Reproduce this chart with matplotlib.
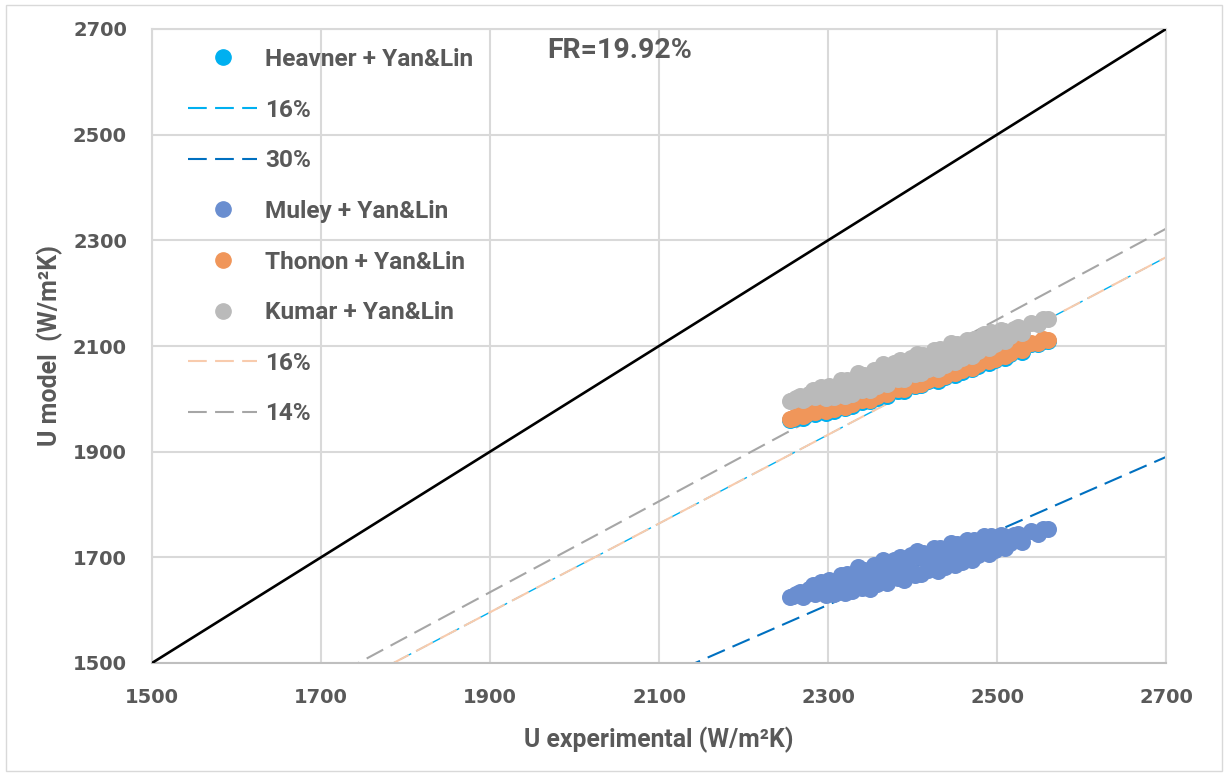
import matplotlib.pyplot as plt
from matplotlib.lines import Line2D
from matplotlib.patches import Rectangle

# U experimental values shared by all four correlations
u_exp = [2255, 2262, 2270, 2278, 2285, 2292, 2298, 2304, 2310, 2315, 2320, 2325, 2330, 2335,
         2340, 2345, 2350, 2355, 2360, 2365, 2370, 2375, 2380, 2385, 2390, 2395, 2400, 2405,
         2410, 2415, 2420, 2425, 2430, 2435, 2440, 2445, 2450, 2455, 2460, 2465, 2470, 2475,
         2480, 2485, 2490, 2495, 2500, 2505, 2510, 2520, 2530, 2540, 2548, 2555, 2560,
         2259, 2267, 2274, 2282, 2288, 2295, 2301, 2307, 2312, 2318, 2322, 2328, 2333, 2338,
         2343, 2348, 2352, 2358, 2363, 2368, 2373, 2378, 2383, 2388, 2393, 2398, 2403, 2408,
         2413, 2418, 2423, 2428, 2433, 2438, 2443, 2448, 2453, 2458, 2463, 2468, 2473, 2478,
         2483, 2488, 2493, 2498, 2503, 2508, 2515, 2525]

# U model for each Nusselt correlation (all with Yan&Lin for the other side)
u_heavner = [1959, 1964, 1964, 1976, 1972, 1988, 1974, 1989, 1985, 2002, 1982, 2004, 1996, 2016,
             1994, 2010, 1995, 2023, 2007, 2031, 2006, 2028, 2021, 2040, 2015, 2040, 2026, 2051,
             2026, 2044, 2038, 2060, 2034, 2058, 2049, 2071, 2046, 2065, 2055, 2077, 2056, 2076,
             2070, 2086, 2068, 2085, 2077, 2093, 2078, 2095, 2089, 2103, 2103, 2110, 2109,
             1961, 1969, 1969, 1981, 1979, 1977, 1992, 1977, 1991, 1986, 2004, 1987, 2006, 2002,
             2014, 2000, 2017, 2002, 2017, 2028, 2015, 2035, 2015, 2032, 2026, 2045, 2024, 2045,
             2051, 2033, 2050, 2040, 2061, 2041, 2056, 2050, 2070, 2051, 2069, 2062, 2079, 2063,
             2079, 2073, 2088, 2073, 2085, 2092, 2084, 2097]
u_muley = [1625, 1630, 1625, 1641, 1631, 1654, 1629, 1650, 1641, 1667, 1632, 1665, 1650, 1681,
           1642, 1668, 1641, 1686, 1657, 1695, 1651, 1685, 1672, 1701, 1657, 1697, 1672, 1712,
           1668, 1697, 1684, 1718, 1674, 1712, 1695, 1728, 1685, 1716, 1698, 1732, 1695, 1727,
           1715, 1740, 1707, 1735, 1719, 1743, 1718, 1742, 1729, 1749, 1745, 1754, 1753,
           1626, 1635, 1631, 1647, 1642, 1636, 1657, 1630, 1651, 1639, 1668, 1637, 1667, 1658,
           1676, 1650, 1677, 1649, 1672, 1688, 1664, 1695, 1661, 1687, 1676, 1704, 1667, 1700,
           1708, 1676, 1702, 1684, 1717, 1682, 1706, 1694, 1725, 1692, 1719, 1706, 1732, 1704,
           1728, 1716, 1741, 1714, 1732, 1741, 1727, 1745]
u_thonon = [1962, 1967, 1967, 1979, 1975, 1991, 1977, 1992, 1988, 2005, 1985, 2007, 1999, 2019,
            1997, 2013, 1998, 2026, 2010, 2034, 2009, 2031, 2024, 2043, 2018, 2043, 2029, 2054,
            2029, 2047, 2041, 2063, 2037, 2061, 2052, 2074, 2049, 2068, 2058, 2080, 2059, 2079,
            2073, 2089, 2071, 2088, 2080, 2096, 2081, 2098, 2092, 2106, 2106, 2113, 2112,
            1964, 1972, 1972, 1984, 1982, 1980, 1995, 1980, 1994, 1989, 2007, 1990, 2009, 2005,
            2017, 2003, 2020, 2005, 2020, 2031, 2018, 2038, 2018, 2035, 2029, 2048, 2027, 2048,
            2054, 2036, 2053, 2043, 2064, 2044, 2059, 2053, 2073, 2054, 2072, 2065, 2082, 2066,
            2082, 2076, 2091, 2076, 2088, 2095, 2087, 2100]
u_kumar = [1996, 2001, 1997, 2010, 2003, 2022, 2001, 2020, 2012, 2035, 2006, 2034, 2022, 2049,
           2017, 2038, 2016, 2055, 2031, 2065, 2028, 2058, 2048, 2073, 2037, 2071, 2050, 2085,
           2048, 2074, 2064, 2093, 2057, 2090, 2076, 2105, 2070, 2096, 2082, 2112, 2082, 2110,
           2101, 2123, 2097, 2122, 2109, 2131, 2110, 2133, 2124, 2143, 2142, 2151, 2151,
           1997, 2005, 2002, 2016, 2011, 2007, 2025, 2003, 2021, 2012, 2036, 2010, 2036, 2029,
           2045, 2024, 2047, 2024, 2045, 2059, 2040, 2067, 2038, 2061, 2052, 2077, 2047, 2075,
           2083, 2057, 2080, 2065, 2094, 2064, 2086, 2076, 2104, 2077, 2101, 2091, 2114, 2091,
           2113, 2104, 2126, 2104, 2120, 2129, 2119, 2136]

# deviation lines (fraction below the model = experimental line)
dev_heavner = 0.16
dev_muley = 0.30
dev_thonon = 0.16
dev_kumar = 0.14
fr_text = "FR=19.92%"

lim = [1500, 2700]
ticks = [1500, 1700, 1900, 2100, 2300, 2500, 2700]

txt_col = "#595959"
grid_col = "#D9D9D9"
font = "Roboto"

fig = plt.figure(figsize=(12.28, 7.76), dpi=100)
fig.patches.append(Rectangle((0.005, 0.007), 0.99, 0.986, transform=fig.transFigure,
                             fill=False, edgecolor=grid_col, linewidth=1))
ax = fig.add_axes([152 / 1228, 1 - 663 / 776, 1014 / 1228, 634 / 776])

ax.set_xlim(lim)
ax.set_ylim(lim)
ax.set_xticks(ticks)
ax.set_yticks(ticks)
ax.grid(True, color=grid_col, linewidth=1.5)
ax.set_axisbelow(True)
for s in ax.spines.values():
    s.set_color(grid_col)
    s.set_linewidth(1.5)
ax.spines["bottom"].set_color("#BFBFBF")
ax.tick_params(length=0, pad=18, labelsize=14, labelcolor=txt_col)
for lab in ax.get_xticklabels() + ax.get_yticklabels():
    lab.set_fontweight("bold")

dash = (9, 4)
ax.plot(lim, lim, color="black", lw=1.9, zorder=3)
ax.plot(lim, [v * (1 - dev_heavner) for v in lim], color="#00B0F0", lw=1.0, dashes=dash, zorder=2)
ax.plot(lim, [v * (1 - dev_muley) for v in lim], color="#0070C0", lw=1.5, dashes=dash, zorder=2)
ax.plot(lim, [v * (1 - dev_thonon) for v in lim], color="#F8CBAD", lw=1.5, dashes=dash, zorder=2)
ax.plot(lim, [v * (1 - dev_kumar) for v in lim], color="#A6A6A6", lw=1.5, dashes=dash, zorder=2)

ms = 150
ax.scatter(u_exp, u_heavner, s=ms, color="#00B0F0", lw=0, zorder=4)
ax.scatter(u_exp, u_muley, s=ms, color="#6A8ED0", lw=0, zorder=4)
ax.scatter(u_exp, u_thonon, s=ms, color="#F0965A", lw=0, zorder=5)
ax.scatter(u_exp, u_kumar, s=ms, color="#BABABA", lw=0, zorder=6)

ax.set_xlabel("U experimental (W/m\u00b2K)", fontsize=17.8, fontweight="bold",
              color=txt_col, family=font, labelpad=14)
ax.set_ylabel("U model  (W/m\u00b2K)", fontsize=18, fontweight="bold",
              color=txt_col, family=font, labelpad=7)

ax.text(0.39, 0.966, fr_text, transform=ax.transAxes, fontsize=20.5, fontweight="bold",
        color=txt_col, family=font, va="center", ha="left")

def dot(c):
    return Line2D([], [], ls="none", marker="o", markersize=11, color=c)

def dline(c):
    return Line2D([], [], color=c, lw=1.5, dashes=dash)

handles = [dot("#00B0F0"), dline("#00B0F0"), dline("#0070C0"), dot("#6A8ED0"),
           dot("#F0965A"), dot("#BABABA"), dline("#F8CBAD"), dline("#A6A6A6")]
labels = ["Heavner + Yan&Lin", "16%", "30%", "Muley + Yan&Lin", "Thonon + Yan&Lin",
          "Kumar + Yan&Lin", "16%", "14%"]
leg = ax.legend(handles, labels, loc="upper left", bbox_to_anchor=(0.0355, 0.970),
                frameon=False, borderpad=0, borderaxespad=0, handlelength=2.83,
                handletextpad=0.33, labelspacing=1.13,
                prop={"family": font, "weight": "bold", "size": 17.6})
for t in leg.get_texts():
    t.set_color(txt_col)

fig.savefig("out.png", dpi=100)
